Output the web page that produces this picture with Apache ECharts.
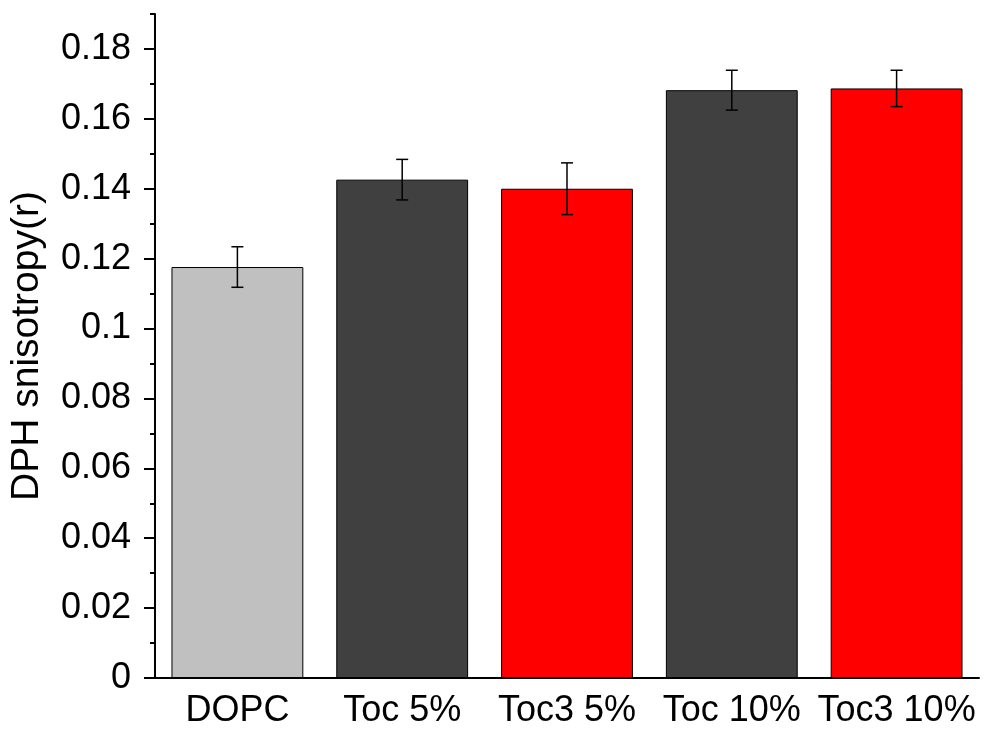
<!DOCTYPE html>
<html>
<head>
<meta charset="utf-8">
<script src="https://cdn.jsdelivr.net/npm/echarts@6/dist/echarts.min.js"></script>
<style>
  html, body { margin: 0; padding: 0; background: #fff; }
  #chart { width: 987px; height: 734px; }
</style>
</head>
<body>
<div id="chart"></div>
<script>
// data
const categories = ["DOPC", "Toc 5%", "Toc3 5%", "Toc 10%", "Toc3 10%"];
const values = [0.1176, 0.1426, 0.1400, 0.1682, 0.1687];
const errors = [0.0058, 0.0058, 0.0074, 0.0057, 0.0052];
const barColors = ["#c0c0c0", "#404040", "#ff0000", "#404040", "#ff0000"];
const yTicks = [0, 0.02, 0.04, 0.06, 0.08, 0.1, 0.12, 0.14, 0.16, 0.18];

const chart = echarts.init(document.getElementById("chart"));
const font = "Liberation Sans, Arial, sans-serif";

// error bar drawn through the axes
function errorBar(params, api) {
  const x = api.value(0);
  const lo = api.coord([x, api.value(1)]);
  const hi = api.coord([x, api.value(2)]);
  const cap = 6;
  const style = { stroke: "#000", lineWidth: 1.5 };
  return {
    type: "group",
    children: [
      { type: "line", shape: { x1: lo[0], y1: lo[1], x2: hi[0], y2: hi[1] }, style: style },
      { type: "line", shape: { x1: lo[0] - cap, y1: lo[1], x2: lo[0] + cap, y2: lo[1] }, style: style },
      { type: "line", shape: { x1: hi[0] - cap, y1: hi[1], x2: hi[0] + cap, y2: hi[1] }, style: style }
    ]
  };
}

const option = {
  animation: false,
  grid: { left: 154, right: 8, top: 14, bottom: 56 },
  xAxis: [
    {
      type: "category",
      data: categories,
      axisLine: { lineStyle: { color: "#000", width: 2 } },
      axisTick: { alignWithLabel: true, length: 11, lineStyle: { color: "#000", width: 2 } },
      axisLabel: { color: "#000", fontSize: 36, fontFamily: font, margin: 15, interval: 0, hideOverlap: false }
    },
    {
      // short ticks on the category edges
      type: "category",
      data: categories,
      position: "bottom",
      axisLine: { show: false },
      axisTick: { length: 5, interval: 0, lineStyle: { color: "#000", width: 2 } },
      axisLabel: { show: false }
    }
  ],
  yAxis: [
    {
      type: "value",
      min: 0,
      max: 0.19,
      interval: 0.02,
      name: "DPH snisotropy(r)",
      nameLocation: "middle",
      nameGap: 108,
      nameTextStyle: { color: "#000", fontSize: 39, fontFamily: font },
      splitLine: { show: false },
      axisLine: { show: true, lineStyle: { color: "#000", width: 2 } },
      axisTick: { show: true, length: 11, customValues: yTicks, lineStyle: { color: "#000", width: 2 } },
      axisLabel: { color: "#000", fontSize: 36, fontFamily: font, margin: 24, customValues: yTicks }
    },
    {
      type: "value",
      min: 0,
      max: 0.19,
      interval: 0.01,
      position: "left",
      splitLine: { show: false },
      axisLine: { show: false },
      axisTick: { show: true, length: 5, lineStyle: { color: "#000", width: 2 } },
      axisLabel: { show: false }
    }
  ],
  series: [
    {
      type: "bar",
      barCategoryGap: "20%",
      data: values.map((v, i) => ({
        value: v,
        itemStyle: { color: barColors[i], borderColor: "#000", borderWidth: 1 }
      }))
    },
    {
      type: "custom",
      renderItem: errorBar,
      z: 5,
      data: values.map((v, i) => [i, v - errors[i], v + errors[i]])
    }
  ]
};

chart.setOption(option);
</script>
</body>
</html>
